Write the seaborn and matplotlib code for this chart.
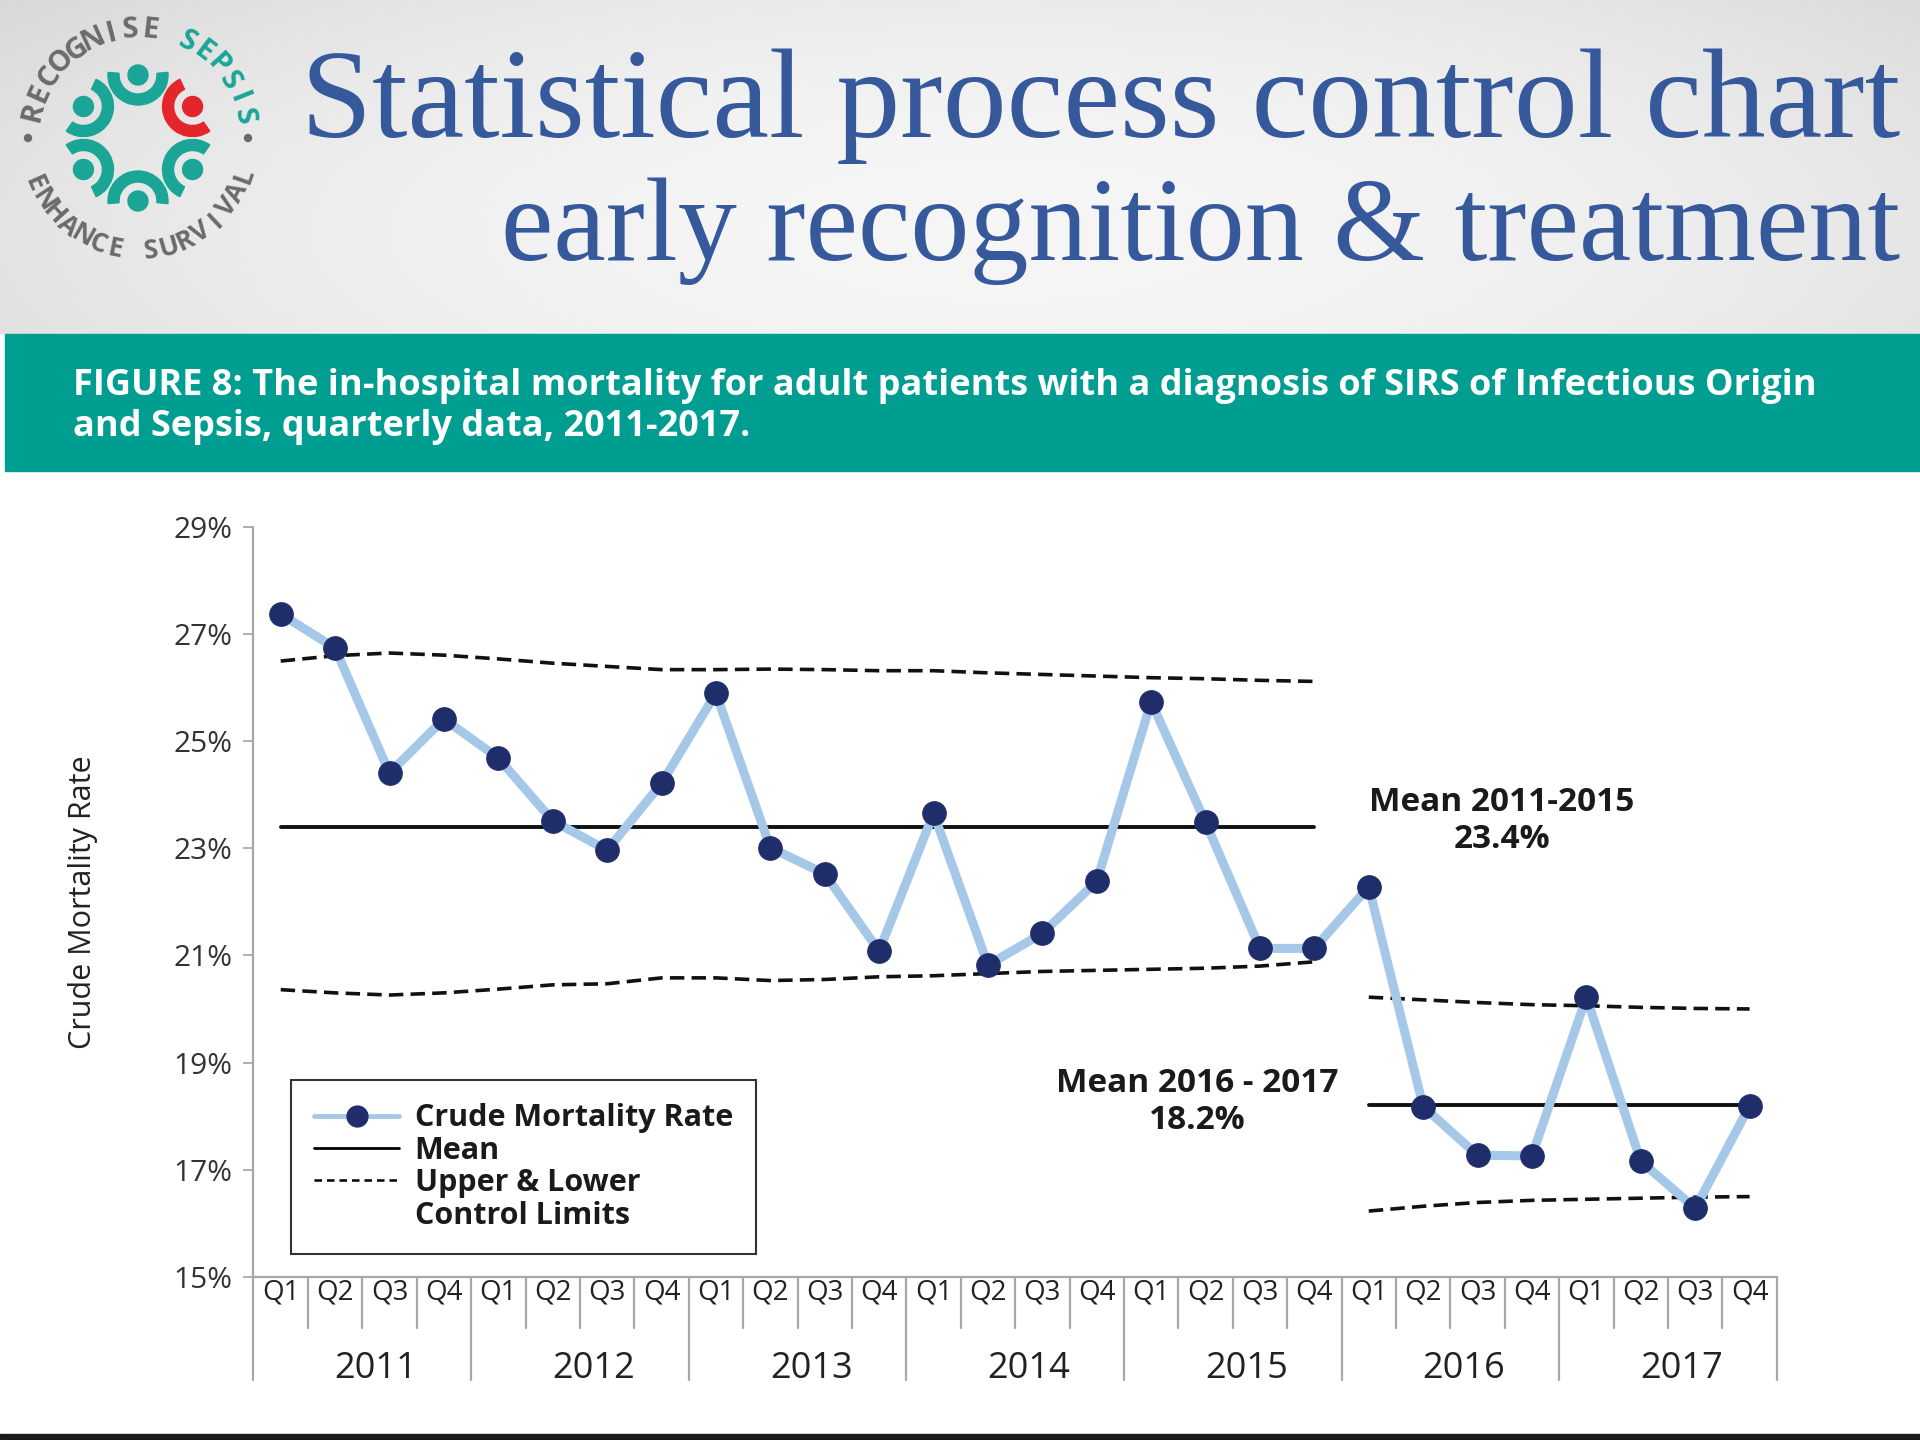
import numpy as np
import pandas as pd
import matplotlib.pyplot as plt
import matplotlib.transforms as mtransforms
import seaborn as sns
from matplotlib.lines import Line2D
from matplotlib.patches import Rectangle, Wedge, Circle

years = ['2011', '2012', '2013', '2014', '2015', '2016', '2017']
quarters = ['Q1', 'Q2', 'Q3', 'Q4']

# crude mortality rate (%) per quarter, 2011 Q1 .. 2017 Q4
rate = [27.37, 26.73, 24.40, 25.41, 24.68, 23.51, 22.96, 24.21,
        25.89, 23.01, 22.52, 21.08, 23.65, 20.82, 21.41, 22.38,
        25.73, 23.48, 21.13, 21.13, 22.28, 18.18, 17.27, 17.26,
        20.22, 17.16, 16.28, 18.19]
ucl = [26.49, 26.59, 26.64, 26.60, 26.53, 26.45, 26.39, 26.33,
       26.33, 26.34, 26.33, 26.31, 26.31, 26.27, 26.24, 26.21,
       26.18, 26.16, 26.13, 26.11, 20.22, 20.17, 20.12, 20.08,
       20.06, 20.03, 20.01, 20.00]
lcl = [20.36, 20.30, 20.26, 20.30, 20.37, 20.45, 20.47, 20.58,
       20.58, 20.53, 20.55, 20.60, 20.62, 20.66, 20.70, 20.72,
       20.74, 20.76, 20.80, 20.88, 16.23, 16.32, 16.39, 16.43,
       16.45, 16.47, 16.49, 16.50]
periods = ['2011-2015', '2016 - 2017']
period_len = [20, 8]
period_mean = [23.4, 18.2]

light_blue = '#a6c8e8'
navy = '#1f2d6b'
teal = '#009e90'
logo_teal = '#1aa596'
title_blue = '#36599c'
grey_line = '#a8a8a8'

df = pd.DataFrame({
    'idx': range(len(rate)),
    'rate': rate,
    'ucl': ucl,
    'lcl': lcl,
    'period': np.repeat(periods, period_len),
    'mean': np.repeat(period_mean, period_len),
})

sns.set_style('white')
plt.rcParams['font.family'] = ['Open Sans', 'DejaVu Sans']

fig = plt.figure(figsize=(19.2, 14.4), dpi=100)
W, H = 1920, 1440

# header background (soft grey gradient)
bg = fig.add_axes([0, 1 - 334 / H, 1, 334 / H], zorder=-5)
yy, xx = np.mgrid[0:334, 0:1920]
d = np.sqrt(((xx - 1000) / 1100.0) ** 2 + ((yy - 230) / 330.0) ** 2)
shade = np.clip(0.965 - 0.09 * d ** 2, 0.82, 1)
bg.imshow(np.dstack([shade] * 3), aspect='auto', extent=[0, 1920, 0, 334])
bg.axis('off')

# teal banner
fig.patches.append(Rectangle((5 / W, 1 - 471 / H), 1 - 5 / W, 137 / H,
                             transform=fig.transFigure, color=teal, zorder=-4))
fig.text(73 / W, 1 - 386 / H,
         'FIGURE 8: The in-hospital mortality for adult patients with a diagnosis of SIRS of Infectious Origin',
         color='white', fontsize=26, fontweight='bold', va='center', ha='left')
fig.text(73 / W, 1 - 427 / H, 'and Sepsis, quarterly data, 2011-2017.',
         color='white', fontsize=26, fontweight='bold', va='center', ha='left')

# title
fig.text(1900 / W, 1 - 137 / H, 'Statistical process control chart', color=title_blue,
         family='Liberation Serif', fontsize=92, ha='right', va='baseline')
fig.text(1900 / W, 1 - 260 / H, 'early recognition & treatment', color=title_blue,
         family='Liberation Serif', fontsize=85, ha='right', va='baseline')

# bottom rule
fig.patches.append(Rectangle((0, 0), 1, 6 / H, transform=fig.transFigure,
                             color='#1a1a1a', zorder=-4))

# logo
lg = fig.add_axes([0, 1 - 280 / H, 280 / W, 280 / H])
lg.set_xlim(0, 280)
lg.set_ylim(0, 280)
lg.axis('off')
cx, cy = 138, 142
for ang in [90, 30, -30, -90, -150, 150]:
    col = '#e3262b' if ang == 30 else logo_teal
    hx = cx + 63 * np.cos(np.radians(ang))
    hy = cy + 63 * np.sin(np.radians(ang))
    lg.add_patch(Circle((hx, hy), 10, color=col))
    lg.add_patch(Wedge((hx, hy), 30, ang + 85, ang + 275, width=11, color=col))
top_text = 'RECOGNISE SEPSIS'
for k, ch in enumerate(top_text):
    a = 166 - k * 10.3
    col = logo_teal if k > 9 else '#6b6b6b'
    lg.text(cx + 108 * np.cos(np.radians(a)), cy + 108 * np.sin(np.radians(a)), ch,
            rotation=a - 90, ha='center', va='center', fontsize=21,
            fontweight='bold', color=col)
bot_text = 'ENHANCE SURVIVAL'
for k, ch in enumerate(bot_text):
    a = -156 + k * 9.1
    lg.text(cx + 113 * np.cos(np.radians(a)), cy + 113 * np.sin(np.radians(a)), ch,
            rotation=a + 90, ha='center', va='center', fontsize=19,
            fontweight='bold', color='#6b6b6b')
for a in [180, 0]:
    lg.add_patch(Circle((cx + 110 * np.cos(np.radians(a)), cy + 110 * np.sin(np.radians(a))),
                        3.5, color='#6b6b6b'))

# main chart
ax = fig.add_axes([253.5 / W, 163 / H, 1523.3 / W, 750.5 / H])
sns.lineplot(data=df, x='idx', y='ucl', units='period', estimator=None, ax=ax,
             color='#111111', lw=2.6, linestyle=(0, (4, 2)), zorder=2)
sns.lineplot(data=df, x='idx', y='lcl', units='period', estimator=None, ax=ax,
             color='#111111', lw=2.6, linestyle=(0, (4, 2)), zorder=2)
sns.lineplot(data=df, x='idx', y='mean', units='period', estimator=None, ax=ax,
             color='#111111', lw=2.8, zorder=3)
sns.lineplot(data=df, x='idx', y='rate', ax=ax, color=light_blue, lw=6.5,
             marker='o', markersize=17, markerfacecolor=navy, mec=navy, zorder=4)

ax.set_xlim(-0.5, 27.5)
ax.set_ylim(15, 29)
ax.set_yticks(range(15, 30, 2))
ax.set_yticklabels([f'{v}%' for v in range(15, 30, 2)], fontsize=21.5, color='#333333')
ax.set_xticks([])
ax.set_xlabel('')
ax.set_ylabel('')
ax.tick_params(axis='y', length=7, width=1.3, color=grey_line, direction='out', pad=8, left=True)
for s in ['top', 'right']:
    ax.spines[s].set_visible(False)
for s in ['left', 'bottom']:
    ax.spines[s].set_color(grey_line)
    ax.spines[s].set_linewidth(1.6)

trans = mtransforms.blended_transform_factory(ax.transData, ax.transAxes)
for i in range(0, 29):
    bottom = -0.137 if i % 4 == 0 else -0.068
    ax.plot([i - 0.5, i - 0.5], [0, bottom], transform=trans, color=grey_line,
            lw=1.6, clip_on=False)
for i in range(28):
    ax.text(i, -0.021, quarters[i % 4], transform=trans, ha='center', va='center',
            fontsize=20, color='#222222')
for k, y in enumerate(years):
    ax.text(4 * k + 1.75, -0.1226, y, transform=trans, ha='center', va='center',
            fontsize=26, color='#222222')

fig.text(83 / W, 1 - 902 / H, 'Crude Mortality Rate', rotation=90, ha='center',
         va='center', fontsize=22, color='#222222')

ax.text(22.45, 23.5, f'Mean {periods[0]}\n{period_mean[0]}%', ha='center', va='center',
        fontsize=24, fontweight='bold', color='#1a1a1a', linespacing=1.15)
ax.text(16.85, 18.27, f'Mean {periods[1]}\n{period_mean[1]}%', ha='center', va='center',
        fontsize=24, fontweight='bold', color='#1a1a1a', linespacing=1.15)

handles = [
    Line2D([], [], color=light_blue, lw=3.5, marker='o', ms=15, mfc=navy, mec=navy),
    Line2D([], [], color='black', lw=2),
    Line2D([], [], color='black', lw=1.8, ls=(0, (3, 2))),
    Line2D([], [], color='none'),
]
leg = ax.legend(handles, ['Crude Mortality Rate', 'Mean', 'Upper & Lower', 'Control Limits'],
                loc='upper left', bbox_to_anchor=(0.0246, 0.262), borderaxespad=0,
                fancybox=False, framealpha=1, edgecolor='#333333',
                prop={'size': 22, 'weight': 'bold'}, handlelength=2.8,
                handletextpad=0.5, labelspacing=0.08, borderpad=0.75)
leg.get_frame().set_linewidth(1.5)
for t in leg.get_texts():
    t.set_color('#1a1a1a')

fig.savefig('out.png', dpi=100)
